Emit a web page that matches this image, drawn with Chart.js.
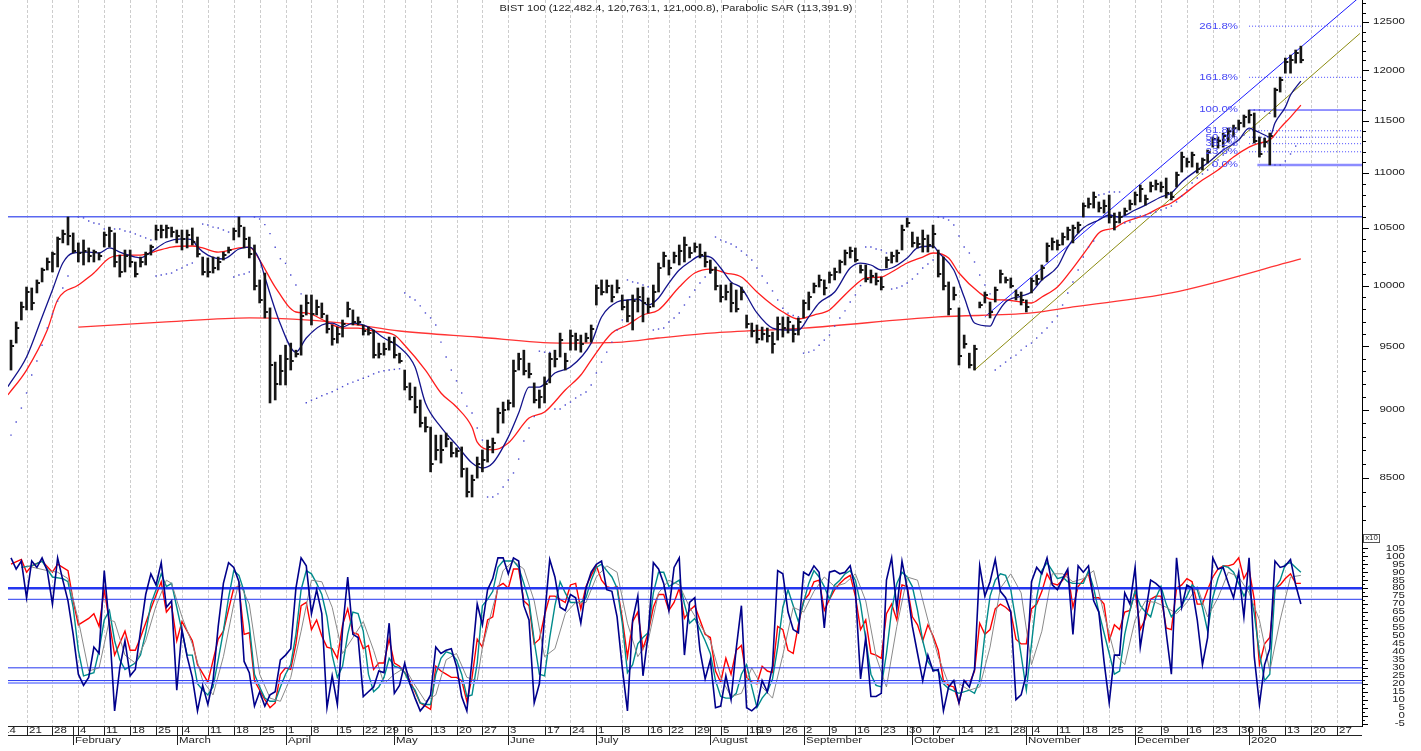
<!DOCTYPE html>
<html>
<head>
<meta charset="utf-8">
<title>BIST 100 - Parabolic SAR</title>
<script src="https://cdn.jsdelivr.net/npm/chart.js@4.4.1/dist/chart.umd.min.js"></script>
<style>
  html, body { margin: 0; padding: 0; background: #ffffff; }
  canvas { display: block; }
</style>
</head>
<body>
<canvas id="bist" width="1421" height="751"></canvas>
<script>
// daily bars, index 0 = 16 Jan 2019 (trading days only)
var high = [
  9549, 9697, 9862, 9988, 9980, 10048, 10150, 10237, 10288, 10420,
  10482, 10598, 10456, 10368, 10394, 10324, 10306, 10280, 10464, 10508,
  10456, 10262, 10306, 10306, 10202, 10245, 10288, 10350, 10526, 10526,
  10526, 10508, 10482, 10482, 10482, 10500, 10420, 10245, 10237, 10245,
  10245, 10288, 10332, 10500, 10598, 10508, 10420, 10350, 10048, 10107,
  9813, 9373, 9428, 9508, 9525, 9468, 9837, 9921, 9921, 9879,
  9854, 9754, 9672, 9655, 9713, 9862, 9796, 9738, 9672, 9655,
  9631, 9525, 9525, 9574, 9574, 9444, 9310, 9209, 9177, 9077,
  8947, 8871, 8811, 8811, 8826, 8759, 8716, 8723, 8569, 8518,
  8649, 8701, 8774, 8789, 9015, 9061, 9077, 9389, 9444, 9468,
  9365, 9209, 9154, 9256, 9444, 9468, 9606, 9444, 9631, 9606,
  9590, 9606, 9672, 10005, 10048, 10048, 10005, 10048, 9921, 9879,
  9921, 9980, 9988, 9896, 10005, 10193, 10288, 10219, 10288, 10350,
  10420, 10332, 10368, 10359, 10288, 10219, 10159, 10005, 10005, 10022,
  9963, 9988, 9754, 9688, 9672, 9655, 9647, 9614, 9738, 9738,
  9738, 9672, 9730, 9879, 9946, 10022, 10090, 10048, 10116, 10150,
  10219, 10306, 10332, 10324, 10176, 10176, 10133, 10107, 10073, 10245,
  10288, 10306, 10526, 10589, 10464, 10420, 10482, 10438, 10526, 10306,
  10245, 10031, 9988, 9813, 9590, 9444, 9508, 9862, 9946, 9862,
  9988, 10133, 10073, 10065, 9963, 9946, 9879, 10065, 10090, 10176,
  10368, 10412, 10394, 10456, 10508, 10526, 10553, 10725, 10770, 10825,
  10734, 10752, 10797, 10634, 10643, 10679, 10752, 10825, 10889, 10797,
  10917, 10935, 10917, 10954, 10825, 11009, 11197, 11141, 11197, 11094,
  11141, 11216, 11341, 11341, 11379, 11427, 11456, 11505, 11554, 11603,
  11574, 11341, 11331, 11379, 11821, 11931, 12125, 12156, 12208, 12248
];
var low = [
  9310, 9525, 9713, 9796, 9796, 9938, 10031, 10133, 10116, 10159,
  10368, 10350, 10280, 10202, 10176, 10202, 10202, 10219, 10332, 10332,
  10159, 10073, 10116, 10159, 10073, 10159, 10176, 10262, 10394, 10412,
  10412, 10420, 10368, 10306, 10324, 10350, 10245, 10090, 10073, 10107,
  10133, 10219, 10280, 10394, 10420, 10324, 10237, 9963, 9854, 9730,
  9054, 9077, 9193, 9193, 9310, 9413, 9428, 9754, 9672, 9754,
  9730, 9606, 9508, 9525, 9574, 9738, 9672, 9672, 9590, 9590,
  9405, 9405, 9428, 9468, 9405, 9365, 9154, 9077, 8977, 8871,
  8834, 8541, 8627, 8605, 8723, 8649, 8649, 8503, 8361, 8361,
  8496, 8541, 8612, 8679, 8826, 8901, 9000, 9023, 9310, 9271,
  9248, 9054, 9015, 9054, 9209, 9334, 9413, 9310, 9468, 9468,
  9452, 9533, 9533, 9837, 9921, 9938, 9862, 9938, 9796, 9697,
  9631, 9779, 9697, 9771, 9821, 9946, 10159, 10090, 10193, 10176,
  10202, 10237, 10288, 10237, 10159, 10107, 9963, 9862, 9879, 9779,
  9779, 9879, 9647, 9574, 9525, 9549, 9533, 9444, 9549, 9574,
  9606, 9533, 9590, 9730, 9796, 9938, 9988, 9921, 10022, 10048,
  10107, 10176, 10237, 10202, 10107, 10031, 10022, 10005, 9963, 10150,
  10193, 10202, 10306, 10508, 10332, 10324, 10288, 10288, 10324, 10073,
  9963, 9754, 9879, 9350, 9484, 9326, 9310, 9813, 9854, 9730,
  9862, 10022, 10022, 9980, 9879, 9837, 9779, 9938, 10005, 10048,
  10202, 10306, 10306, 10350, 10394, 10368, 10456, 10598, 10679, 10679,
  10643, 10634, 10544, 10482, 10544, 10616, 10661, 10706, 10734, 10706,
  10825, 10843, 10825, 10770, 10752, 10871, 11009, 11056, 11056, 11000,
  11028, 11094, 11244, 11235, 11244, 11293, 11341, 11408, 11437, 11476,
  11283, 11150, 11244, 11076, 11534, 11781, 11971, 11971, 12073, 12076
];
var close = [
  9500, 9650, 9820, 9950, 9850, 10020, 10130, 10200, 10270, 10400,
  10450, 10430, 10300, 10280, 10300, 10250, 10290, 10250, 10440, 10470,
  10200, 10120, 10250, 10200, 10100, 10200, 10270, 10330, 10480, 10480,
  10500, 10460, 10430, 10400, 10440, 10380, 10270, 10120, 10120, 10150,
  10200, 10260, 10310, 10470, 10520, 10400, 10270, 10000, 9880, 9780,
  9350, 9200, 9300, 9400, 9380, 9440, 9750, 9850, 9760, 9820,
  9760, 9640, 9560, 9600, 9680, 9800, 9700, 9700, 9620, 9610,
  9430, 9440, 9480, 9530, 9430, 9380, 9180, 9100, 9020, 8900,
  8870, 8600, 8700, 8700, 8780, 8680, 8690, 8560, 8400, 8480,
  8600, 8630, 8720, 8750, 8980, 9000, 9050, 9300, 9400, 9300,
  9280, 9080, 9100, 9200, 9400, 9400, 9550, 9380, 9580, 9550,
  9520, 9570, 9640, 9980, 9950, 10000, 9900, 9980, 9820, 9750,
  9870, 9900, 9850, 9820, 9950, 10150, 10250, 10150, 10250, 10300,
  10350, 10280, 10330, 10260, 10200, 10130, 10000, 9900, 9950, 9850,
  9800, 9950, 9680, 9620, 9560, 9600, 9580, 9520, 9680, 9650,
  9700, 9600, 9700, 9850, 9900, 10000, 10050, 9980, 10090, 10120,
  10200, 10280, 10300, 10220, 10130, 10060, 10080, 10040, 9990, 10220,
  10250, 10280, 10480, 10540, 10370, 10360, 10400, 10350, 10450, 10100,
  10000, 9800, 9920, 9420, 9520, 9350, 9480, 9840, 9920, 9780,
  9960, 10100, 10050, 10000, 9920, 9880, 9820, 10040, 10060, 10150,
  10340, 10380, 10350, 10420, 10480, 10500, 10530, 10700, 10720, 10780,
  10680, 10700, 10600, 10550, 10600, 10650, 10720, 10800, 10850, 10760,
  10880, 10900, 10870, 10820, 10780, 10980, 11150, 11100, 11170, 11040,
  11120, 11200, 11320, 11300, 11350, 11400, 11430, 11480, 11530, 11550,
  11300, 11180, 11290, 11350, 11800, 11900, 12080, 12100, 12180, 12100
];

// averages and stops, read as [day index, value]
var maFast = [[-0.6,9180],[3,9413],[6,9738],[8,9963],[10,10193],[12,10280],[15,10288],[17,10280],[19,10324],[21,10288],[24,10245],[25,10237],[27,10288],[30,10376],[33,10403],[35,10394],[36,10332],[38,10262],[41,10228],[44,10315],[46,10332],[48,10219],[49,10073],[52,9680],[55,9452],[57,9566],[60,9672],[62,9688],[64,9655],[66,9688],[69,9655],[72,9566],[75,9492],[78,9334],[80,9054],[83,8871],[86,8738],[89,8605],[91,8569],[93,8605],[96,8796],[98,8977],[100,9177],[102,9177],[105,9287],[108,9334],[112,9525],[114,9738],[117,9862],[119,9879],[121,9887],[123,9837],[125,9896],[127,10022],[129,10133],[131,10202],[133,10254],[135,10245],[137,10150],[139,10031],[141,9980],[144,9771],[147,9647],[150,9631],[152,9631],[154,9738],[156,9854],[159,9946],[162,10150],[164,10193],[166,10176],[168,10133],[170,10150],[173,10237],[175,10324],[178,10341],[179,10288],[182,10133],[184,9904],[186,9688],[189,9663],[190,9738],[192,9862],[195,9912],[197,9946],[199,10048],[202,10159],[204,10332],[207,10500],[210,10571],[212,10616],[214,10598],[217,10661],[219,10706],[222,10779],[224,10816],[226,10917],[229,11028],[231,11094],[234,11216],[237,11312],[239,11427],[240,11408],[242,11360],[243,11341],[244,11476],[246,11632],[247,11751],[249,11891]];
var maSlow = [[-0.6,9116],[3,9310],[7,9631],[9,9879],[13,10005],[16,10107],[19,10237],[22,10262],[25,10262],[28,10297],[31,10332],[35,10341],[37,10324],[40,10288],[44,10324],[46,10332],[48,10219],[51,9988],[55,9779],[57,9771],[61,9697],[64,9647],[67,9647],[70,9623],[74,9590],[76,9508],[80,9310],[83,9131],[86,9023],[89,8870],[90,8759],[93,8701],[96,8752],[100,8939],[103,8985],[107,9154],[110,9271],[112,9389],[116,9606],[119,9672],[122,9754],[125,9796],[129,9988],[132,10107],[135,10141],[138,10107],[141,10073],[144,9946],[147,9837],[149,9779],[152,9721],[155,9754],[158,9796],[160,9879],[163,10005],[165,10065],[168,10073],[170,10116],[173,10193],[176,10245],[178,10280],[181,10237],[183,10107],[187,9938],[189,9887],[192,9879],[195,9862],[197,9854],[199,9904],[202,9988],[205,10150],[208,10332],[210,10456],[213,10500],[215,10553],[219,10616],[222,10688],[224,10725],[230,10935],[233,11028],[236,11150],[239,11244],[241,11283],[243,11312],[245,11427],[247,11534],[249,11651]];
var ma200 = [[13,9655],[30,9697],[46,9730],[64,9688],[75,9623],[90,9574],[106,9525],[118,9533],[125,9566],[135,9606],[153,9647],[179,9738],[197,9771],[205,9821],[224,9938],[249,10228]];
var sar = [[0,8811],[1,8909],[2,9015],[3,9131],[4,9271],[5,9381],[6,9508],[7,9647],[8,9763],[9,9870],[10,9980],[11,10082],
  [13,10598],[14,10590],[15,10562],[16,10544],[17,10535],[18,10491],[19,10491],[20,10491],[21,10491],[22,10473],[23,10464],[24,10447],[25,10429],[26,10412],[27,10394],
  [28,10082],[29,10090],[30,10099],[31,10107],[32,10133],[33,10150],[34,10176],[35,10193],
  [37,10535],[38,10526],[39,10508],[40,10500],[41,10482],[42,10464],
  [43,10073],[44,10090],[45,10099],[46,10116],
  [47,10598],[48,10580],[49,10530],[50,10450],[51,10330],[52,10230],[53,10190],[54,10090],[55,10005],[56,9930],
  [57,9056],[58,9075],[59,9090],[60,9110],[61,9125],[62,9140],[63,9160],[64,9180],[65,9200],[66,9215],[67,9230],[68,9245],[69,9260],[70,9280],[71,9295],[72,9305],[73,9310],[74,9315],[75,9320],
  [76,9938],[77,9904],[78,9879],[79,9830],[80,9771],[81,9730],[82,9672],[83,9533],[84,9413],[85,9310],[86,9225],[87,9131],[88,9030],[89,8977],[90,8864],[91,8774],
  [92,8361],[93,8361],[94,8383],[95,8432],[96,8482],[97,8533],[98,8634],[99,8767],[100,8864],[101,8950],
  [102,9460],[103,9452],[104,9450],
  [105,9008],[106,9008],[107,9038],[108,9061],[109,9092],[110,9116],[111,9139],[112,9193],[113,9287],[114,9373],[115,9452],[116,9533],[117,9631],[118,9713],
  [119,10048],[120,10031],[121,10022],[122,10005],[123,9990],
  [124,9631],[125,9639],[126,9647],[127,9697],[128,9730],[129,9771],[130,9837],[131,9904],[132,9963],[133,10022],[134,10073],[135,10105],
  [136,10420],[137,10394],[138,10376],[139,10359],[140,10332],[141,10297],[142,10262],[143,10219],[144,10150],[145,10082],[146,10022],[147,9955],[148,9879],[149,9810],[150,9770],[151,9750],[152,9740],
  [153,9444],[154,9452],[155,9468],[156,9508],[157,9549],[158,9590],[159,9663],[160,9730],[161,9788],[162,9862],[163,9921],[164,10000],
  [165,10332],[166,10332],[167,10315],[168,10306],[169,10280],
  [170,9971],[171,9980],[172,9996],[173,10022],[174,10056],[175,10099],[176,10150],[177,10185],[178,10219],
  [179,10598],[180,10589],[181,10571],[182,10526],[183,10429],[184,10332],[185,10280],[186,10202],[187,10090],[188,10005],[189,9930],
  [190,9310],[191,9342],[192,9373],[193,9405],[194,9428],[195,9468],[196,9500],[197,9525],[198,9566],[199,9606],[200,9647],[201,9697],[202,9746],[203,9837],[204,9938],[205,10031],[206,10133],[207,10245],[208,10332],[209,10385],
  [210,10797],[211,10806],[212,10825],[213,10825],[214,10825],
  [215,10544],[216,10553],[217,10589],[218,10607],[219,10616],[220,10634],[221,10643],[222,10661],[223,10679],[224,10697],[225,10734],[226,10788],[227,10843],[228,10908],[229,10954],[230,10991],[231,11028],[232,11075],[233,11122],[234,11169],[235,11216],[236,11264],[237,11312],[238,11360],[239,11418],
  [240,11603],[241,11603],[242,11590],[243,11570],
  [244,11075],[245,11075],[246,11113],[247,11179],[248,11254],[249,11339]];

// stochastic panel (x10)
var stochFast = [
  99, 92, 97, 74, 97, 93, 99, 91, 70, 99,
  85, 72, 51, 26, 19, 24, 43, 39, 91, 56,
  3, 30, 47, 25, 29, 53, 76, 89, 82, 96,
  68, 72, 16, 54, 37, 24, 3, 19, 7, 22,
  56, 83, 96, 93, 84, 34, 27, 6, 15, 6,
  13, 15, 35, 38, 42, 80, 99, 94, 64, 79,
  64, 5, 25, 7, 54, 87, 51, 49, 12, 15,
  18, 28, 27, 58, 14, 19, 33, 20, 11, 3,
  7, 13, 43, 39, 41, 42, 31, 12, 3, 35,
  70, 57, 79, 86, 99, 99, 89, 99, 97, 69,
  60, 8, 20, 62, 98, 87, 68, 66, 76, 74,
  58, 80, 90, 95, 97, 79, 78, 62, 30, 3,
  60, 75, 25, 51, 96, 92, 83, 66, 93, 99,
  38, 71, 74, 41, 23, 35, 5, 6, 25, 10,
  42, 69, 5, 3, 6, 22, 15, 31, 91, 89,
  65, 54, 52, 90, 88, 94, 90, 55, 90, 91,
  89, 90, 94, 79, 23, 49, 12, 12, 14, 85,
  99, 67, 97, 80, 56, 39, 22, 38, 28, 29,
  3, 18, 22, 8, 22, 18, 29, 94, 75, 84,
  98, 78, 74, 65, 10, 13, 26, 84, 93, 89,
  99, 82, 79, 86, 92, 51, 94, 90, 94, 72,
  65, 34, 8, 38, 38, 77, 70, 93, 43, 64,
  85, 83, 80, 52, 26, 99, 68, 82, 80, 60,
  32, 49, 99, 92, 93, 83, 74, 90, 62, 99,
  37, 7, 32, 42, 97, 93, 94, 98, 82, 70
];
var stochRed = [[0,95],[2,98],[3,90],[4,94],[6,97],[8,90],[9,95],[11,91],[12,72],[13,57],[15,61],[16,64],[17,56],[18,79],[20,38],[22,53],[23,41],[24,41],[25,49],[27,67],[29,84],[30,65],[31,69],[32,47],[33,59],[35,47],[36,32],[38,21],[40,48],[41,53],[43,80],[44,81],[45,51],[46,52],[47,22],[49,10],[50,5],[51,8],[52,26],[53,30],[54,29],[55,45],[56,69],[57,71],[58,54],[59,60],[60,50],[61,43],[62,42],[63,36],[64,57],[65,67],[66,52],[67,51],[68,42],[69,44],[70,29],[71,33],[72,33],[73,48],[74,33],[75,31],[76,27],[77,22],[79,8],[81,4],[82,31],[83,28],[84,26],[85,24],[86,24],[87,22],[88,9],[89,24],[90,48],[91,43],[92,60],[93,62],[94,81],[95,83],[96,80],[97,92],[98,92],[99,72],[100,69],[101,45],[102,48],[103,63],[104,75],[105,75],[106,73],[107,71],[108,82],[109,83],[110,67],[111,81],[112,88],[113,94],[114,85],[115,81],[116,80],[117,81],[118,61],[119,37],[120,59],[121,65],[122,42],[123,52],[124,68],[125,76],[126,76],[127,66],[128,71],[129,80],[130,61],[131,66],[132,69],[133,60],[134,51],[135,49],[136,28],[137,21],[138,36],[139,26],[140,41],[141,44],[142,24],[143,21],[144,20],[145,31],[146,28],[147,27],[148,56],[149,54],[150,41],[151,39],[152,57],[153,72],[154,76],[155,84],[156,85],[157,66],[158,73],[159,79],[160,83],[161,86],[162,88],[163,75],[164,54],[165,60],[166,39],[167,38],[168,36],[169,64],[170,70],[171,60],[172,82],[173,81],[174,62],[175,57],[176,47],[177,57],[178,50],[179,41],[180,22],[181,19],[182,18],[183,8],[184,22],[185,20],[186,28],[187,58],[188,51],[189,54],[190,67],[191,70],[192,68],[193,65],[194,48],[195,45],[196,45],[197,67],[198,70],[199,78],[200,89],[201,83],[202,82],[203,85],[204,90],[205,68],[206,81],[207,85],[208,89],[209,74],[210,74],[211,70],[212,47],[213,57],[214,54],[215,65],[216,66],[217,78],[218,54],[219,61],[220,73],[221,75],[222,75],[223,55],[224,54],[225,80],[226,82],[227,86],[228,84],[229,70],[230,70],[231,79],[232,87],[233,92],[234,94],[235,94],[236,95],[237,99],[238,86],[239,92],[240,73],[241,32],[242,45],[243,49],[244,80],[245,82],[246,86],[247,89],[248,83],[249,83]];
var stochTeal = [[2,93],[4,94],[6,97],[8,87],[10,86],[11,84],[12,68],[13,41],[14,25],[16,27],[17,41],[18,60],[19,66],[20,47],[21,35],[22,29],[24,33],[25,38],[26,52],[27,70],[28,79],[29,89],[30,81],[31,83],[32,68],[33,53],[34,38],[35,38],[36,20],[37,16],[38,13],[39,18],[40,35],[41,53],[42,74],[43,91],[44,88],[45,78],[46,57],[47,26],[48,18],[49,11],[50,9],[51,9],[52,18],[53,26],[54,32],[55,51],[56,79],[57,91],[58,89],[59,83],[60,76],[61,62],[62,38],[63,24],[64,31],[65,51],[66,65],[67,64],[68,53],[69,26],[70,15],[71,18],[72,24],[73,36],[74,31],[75,30],[76,27],[77,20],[78,16],[79,8],[80,7],[81,7],[82,26],[83,36],[84,40],[85,39],[86,35],[87,26],[88,12],[89,13],[90,33],[91,69],[92,73],[93,78],[94,93],[95,97],[96,97],[97,97],[98,93],[99,83],[100,72],[101,47],[102,26],[103,25],[104,49],[105,69],[106,84],[107,77],[108,71],[110,71],[111,74],[112,85],[113,93],[114,95],[115,91],[116,87],[117,80],[118,58],[119,27],[120,32],[121,45],[122,49],[123,52],[124,77],[125,90],[126,90],[127,81],[128,83],[129,85],[130,70],[131,58],[132,61],[133,54],[134,47],[135,39],[136,22],[137,12],[138,11],[139,11],[140,14],[141,26],[142,32],[143,18],[144,5],[145,11],[146,15],[147,23],[148,43],[149,68],[150,79],[151,69],[152,59],[153,71],[154,83],[155,91],[156,87],[157,81],[158,73],[159,82],[160,85],[161,89],[162,91],[163,85],[164,70],[165,48],[166,26],[167,19],[168,18],[169,39],[170,66],[171,83],[172,90],[173,87],[174,81],[175,66],[176,47],[177,34],[178,29],[179,28],[180,20],[181,17],[183,14],[185,16],[186,14],[187,22],[188,51],[189,75],[190,85],[191,89],[192,88],[193,79],[194,59],[195,38],[196,16],[197,45],[198,74],[199,91],[200,96],[201,91],[202,86],[203,87],[204,84],[205,83],[206,83],[207,83],[208,91],[209,80],[210,65],[211,52],[212,39],[213,26],[214,28],[215,51],[216,66],[217,78],[218,69],[219,65],[220,62],[221,74],[222,81],[223,70],[224,62],[225,66],[226,69],[227,75],[228,82],[229,79],[230,68],[231,53],[232,74],[233,86],[234,94],[235,93],[236,90],[237,83],[238,75],[239,81],[240,64],[241,39],[242,22],[243,26],[244,80],[245,85],[246,95],[247,96],[248,93],[249,90]];
var stochGray = [[3,94],[7,91],[9,90],[11,86],[13,60],[15,28],[17,30],[19,60],[20,59],[22,38],[24,33],[26,47],[28,69],[30,85],[31,83],[33,62],[35,45],[37,22],[39,13],[41,37],[43,70],[44,84],[46,70],[48,26],[50,11],[52,9],[54,24],[56,53],[58,85],[60,84],[62,68],[64,39],[66,49],[68,59],[70,41],[72,20],[74,26],[76,30],[78,19],[80,9],[82,13],[84,35],[86,39],[88,24],[90,22],[91,43],[93,68],[95,91],[97,97],[99,92],[101,72],[103,37],[105,42],[107,64],[109,71],[111,71],[113,87],[115,94],[117,90],[119,58],[121,37],[123,47],[125,77],[127,85],[129,82],[131,68],[133,57],[135,47],[137,24],[139,12],[141,14],[143,30],[145,18],[147,11],[149,38],[151,68],[153,65],[155,78],[157,87],[159,81],[161,83],[163,89],[165,72],[167,37],[169,18],[171,56],[173,87],[175,85],[177,60],[179,37],[181,20],[182,22],[185,16],[187,18],[189,43],[191,80],[193,89],[195,77],[197,32],[199,53],[201,89],[203,89],[205,84],[207,86],[209,91],[211,64],[213,39],[215,32],[217,60],[219,72],[221,71],[223,68],[225,64],[227,71],[229,81],[231,62],[233,74],[235,90],[237,87],[239,77],[241,60],[243,28],[245,60],[247,87],[249,88]];
var stochLevels = [80, 73, 30, 22, 20.5];

// drawn studies
var resistance = 10600;
var fibLevels = [12457, 11929, 11603, 11401, 11339, 11277, 11200, 11075];
var fibLabels = ['261.8%', '161.8%', '100.0%', '61.8%', '50.0%', '38.2%', '23.6%', '0.0%'];
var fibFrom = 239;
var trendUpper = [[188, 9740], [260.8, 12790]];
var trendLower = [[186, 9310], [260.4, 12380]];

// axis labels
var weekTicks = [[-2,'14'],[3,'21'],[8,'28'],[13,'4'],[18,'11'],[23,'18'],[28,'25'],[33,'4'],[38,'11'],[43,'18'],[48,'25'],[53,'1'],[58,'8'],[63,'15'],[68,'22'],[72,'29'],[76,'6'],[81,'13'],[86,'20'],[91,'27'],[96,'3'],[103,'17'],[108,'24'],[113,'1'],[118,'8'],[123,'16'],[127,'22'],[132,'29'],[137,'5'],[142,'15'],[144,'19'],[149,'26'],[153,'2'],[158,'9'],[163,'16'],[168,'23'],[173,'30'],[178,'7'],[183,'14'],[188,'21'],[193,'28'],[197,'4'],[202,'11'],[207,'18'],[212,'25'],[217,'2'],[222,'9'],[227,'16'],[232,'23'],[237,'30'],[241,'6'],[246,'13'],[251,'20'],[256,'27']];
var monthTicks = [[12,'February'],[32,'March'],[53,'April'],[74,'May'],[96,'June'],[113,'July'],[135,'August'],[153,'September'],[174,'October'],[196,'November'],[217,'December'],[239,'2020']];
var priceTicks = [8500, 9000, 9500, 10000, 10500, 11000, 11500, 12000, 12500];
var oscTicks = [-5, 0, 5, 10, 15, 20, 25, 30, 35, 40, 45, 50, 55, 60, 65, 70, 75, 80, 85, 90, 95, 100, 105];

var X_MIN = -0.58, X_MAX = 260.8;

function pts(arr) {
  return arr.map(function (p) { return {x: p[0], y: p[1]}; });
}
function flat(level, x0, x1) {
  return [{x: x0, y: level}, {x: x1, y: level}];
}
function line(data, color, width, axis, extra) {
  var d = {
    type: 'line', data: data, borderColor: color, borderWidth: width,
    pointRadius: 0, tension: 0, fill: false, yAxisID: axis, order: 2
  };
  for (var k in extra) d[k] = extra[k];
  return d;
}

// right-side close tick for each bar
var tick = document.createElement('canvas');
tick.width = 8; tick.height = 2;
var tctx = tick.getContext('2d');
tctx.fillStyle = '#151515';
tctx.fillRect(4, 0, 3, 2);

var datasets = [
  {type: 'bar', data: high.map(function (h, i) { return {x: i, y: [low[i], h]}; }),
   backgroundColor: '#151515', barThickness: 2, yAxisID: 'yp', order: 0},
  {type: 'line', showLine: false, data: close.map(function (c, i) { return {x: i, y: c}; }),
   pointStyle: tick, pointRadius: 2, yAxisID: 'yp', order: 0},
  {type: 'line', showLine: false, data: pts(sar), pointStyle: 'rect', pointRadius: 1,
   backgroundColor: '#4b4bd0', borderWidth: 0, yAxisID: 'yp', order: 1},
  line(pts(maFast), '#13138c', 1.3, 'yp', {cubicInterpolationMode: 'monotone'}),
  line(pts(maSlow), '#ff1d1d', 1.3, 'yp', {cubicInterpolationMode: 'monotone'}),
  line(pts(ma200), '#ff3434', 1.3, 'yp', {cubicInterpolationMode: 'monotone'}),
  line(flat(resistance, X_MIN, X_MAX), '#5a68f0', 1.6, 'yp'),
  line(pts(trendUpper), '#1a1aff', 1, 'yp'),
  line(pts(trendLower), '#8b8b10', 1, 'yp')
];

fibLevels.forEach(function (v, k) {
  var lbl = fibLabels[k];
  if (lbl === '100.0%') datasets.push(line(flat(v, fibFrom, X_MAX), '#2a2aff', 1, 'yp'));
  else if (lbl === '0.0%') datasets.push(line(flat(v, fibFrom + 1.6, X_MAX), '#8c8cff', 2.5, 'yp'));
  else datasets.push(line(flat(v, fibFrom, X_MAX), '#4848ff', 1, 'yp', {borderDash: [1, 2]}));
});

stochLevels.forEach(function (v) {
  var w = v === 80 ? 2.5 : (v === 20.5 ? 2 : 1);
  var c = v === 20.5 ? '#97a2ff' : '#2436f0';
  datasets.push(line(flat(v, X_MIN, X_MAX), c, w, 'yo'));
});
datasets.push(line(pts(stochGray), '#8a8a8a', 1, 'yo'));
datasets.push(line(pts(stochTeal), '#008b8b', 1.4, 'yo'));
datasets.push(line(pts(stochRed), '#ff0000', 1.4, 'yo'));
datasets.push(line(stochFast.map(function (v, i) { return {x: i, y: v}; }), '#00008b', 1.6, 'yo', {order: 1}));

function label(ctx, s, x, y, size, align, color, sx) {
  ctx.save();
  ctx.font = size + 'px "Liberation Sans", Arial, sans-serif';
  ctx.fillStyle = color;
  ctx.textAlign = align;
  ctx.textBaseline = 'middle';
  ctx.translate(x, y);
  ctx.scale(sx, 1);
  ctx.fillText(s, 0, 0);
  ctx.restore();
}
function seg(ctx, x1, y1, x2, y2) {
  ctx.beginPath(); ctx.moveTo(x1, y1); ctx.lineTo(x2, y2); ctx.stroke();
}

var decor = {
  id: 'decor',
  beforeDatasetsDraw: function (chart) {
    var ctx = chart.ctx, a = chart.chartArea, xs = chart.scales.x;
    ctx.save();
    ctx.strokeStyle = '#cdcdcd';
    ctx.lineWidth = 1;
    ctx.setLineDash([3, 2]);
    weekTicks.forEach(function (t) {
      if (t[0] < X_MIN) return;
      var x = Math.round(xs.getPixelForValue(t[0])) + 0.5;
      seg(ctx, x, a.top, x, a.bottom);
    });
    ctx.restore();
  },
  afterDraw: function (chart) {
    var ctx = chart.ctx, a = chart.chartArea;
    var xs = chart.scales.x, yp = chart.scales.yp, yo = chart.scales.yo;
    var ax = a.right, v, y;

    label(ctx, 'BIST 100 (122,482.4, 120,763.1, 121,000.8), Parabolic SAR (113,391.9)',
      676, 8.5, 8.5, 'center', '#222', 1.3);

    var fx = xs.getPixelForValue(fibFrom) - 11;
    fibLevels.forEach(function (lv, k) {
      label(ctx, fibLabels[k], fx, yp.getPixelForValue(lv), 8.5, 'right', '#4646f5', 1.35);
    });

    // right axes
    ctx.save();
    ctx.strokeStyle = '#000';
    ctx.lineWidth = 1;
    for (v = 8200; v <= 12700; v += 100) {
      y = Math.round(yp.getPixelForValue(v)) + 0.5;
      seg(ctx, ax, y, ax + (v % 500 === 0 ? 7 : 4), y);
    }
    for (v = -5; v <= 105; v += 2.5) {
      y = Math.round(yo.getPixelForValue(v)) + 0.5;
      seg(ctx, ax, y, ax + (v % 5 === 0 ? 6 : 3), y);
    }
    ctx.restore();
    priceTicks.forEach(function (p) {
      label(ctx, String(p), 1405, yp.getPixelForValue(p), 8.5, 'right', '#222', 1.35);
    });
    oscTicks.forEach(function (o) {
      label(ctx, String(o), 1405, yo.getPixelForValue(o), 8.5, 'right', '#222', 1.35);
    });
    ctx.save();
    ctx.strokeStyle = '#555';
    ctx.lineWidth = 1;
    ctx.strokeRect(ax + 1.5, yo.top + 1.5, 16, 8);
    ctx.restore();
    label(ctx, 'x10', ax + 9.5, yo.top + 5.5, 6.5, 'center', '#222', 1.2);

    // time axis, two rows
    var top = a.bottom;
    ctx.save();
    ctx.beginPath();
    ctx.rect(a.left, top, a.right - a.left, 30);
    ctx.clip();
    ctx.strokeStyle = '#222';
    ctx.lineWidth = 1;
    seg(ctx, a.left, top + 0.5, a.right, top + 0.5);
    seg(ctx, a.left, top + 9.5, a.right, top + 9.5);
    weekTicks.forEach(function (t) {
      var x = Math.round(xs.getPixelForValue(t[0])) + 0.5;
      seg(ctx, x, top, x, top + 9);
      label(ctx, t[1], x + 1.5, top + 5, 8.5, 'left', '#222', 1.35);
    });
    monthTicks.forEach(function (t) {
      var x = Math.round(xs.getPixelForValue(t[0])) + 0.5;
      seg(ctx, x, top, x, top + 19);
      label(ctx, t[1], x + 1.5, top + 14.5, 8.5, 'left', '#222', 1.35);
    });
    ctx.restore();
  }
};

new Chart(document.getElementById('bist'), {
  type: 'line',
  data: {datasets: datasets},
  options: {
    responsive: false,
    devicePixelRatio: 1,
    animation: false,
    events: [],
    layout: {padding: {left: 8, right: 0, top: 0, bottom: 25}, autoPadding: false},
    plugins: {legend: {display: false}, tooltip: {enabled: false}},
    scales: {
      x: {
        type: 'linear', min: X_MIN, max: X_MAX, offset: false,
        ticks: {display: false}, grid: {display: false}, border: {display: false},
        afterFit: function (s) { s.height = 0; }
      },
      yp: {
        type: 'logarithmic', position: 'right', stack: 'panes', stackWeight: 533,
        min: 8110, max: 12736,
        ticks: {display: false}, grid: {display: false},
        border: {display: true, color: '#000', width: 1},
        afterFit: function (s) { s.width = 59; }
      },
      yo: {
        type: 'linear', position: 'right', stack: 'panes', stackWeight: 193,
        min: -6.5, max: 114.6,
        ticks: {display: false}, grid: {display: false},
        border: {display: true, color: '#000', width: 1},
        afterFit: function (s) { s.width = 59; }
      }
    }
  },
  plugins: [decor]
});
</script>
</body>
</html>
